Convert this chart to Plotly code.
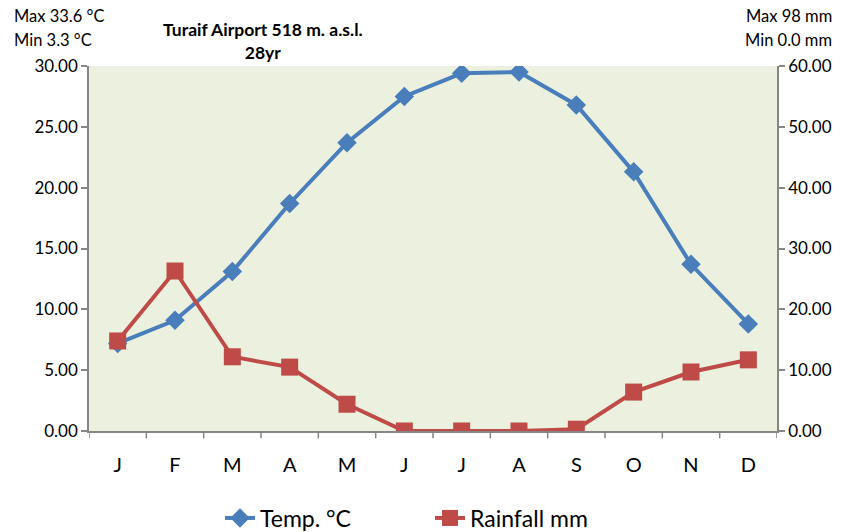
import plotly.graph_objects as go

months = ["J", "F", "M", "A", "M", "J", "J", "A", "S", "O", "N", "D"]
temp_c = [7.2, 9.1, 13.1, 18.7, 23.7, 27.5, 29.4, 29.5, 26.8, 21.3, 13.7, 8.8]
rain_mm = [14.8, 26.3, 12.2, 10.5, 4.4, 0.0, 0.0, 0.0, 0.3, 6.4, 9.7, 11.7]
temp_ticks = [0, 5, 10, 15, 20, 25, 30]
rain_ticks = [0, 10, 20, 30, 40, 50, 60]

x = list(range(len(months)))
FONT = "Lato, Carlito, 'Liberation Sans', sans-serif"
AXIS = "#868686"
L, R, T, B = 89, 69, 66, 101
W, H = 846, 532
PW, PH = W - L - R, H - T - B

fig = go.Figure()
fig.add_trace(go.Scatter(
    x=x, y=temp_c, name="Temp. °C", mode="lines+markers",
    line=dict(color="#4A7EBB", width=4),
    marker=dict(symbol="diamond", size=15, color="#4A7EBB"),
))
fig.add_trace(go.Scatter(
    x=x, y=rain_mm, name="Rainfall mm", mode="lines+markers", yaxis="y2",
    line=dict(color="#BE4B48", width=4),
    marker=dict(symbol="square", size=17, color="#BE4B48"),
))

fig.update_layout(
    width=W, height=H,
    margin=dict(l=L, r=R, t=T, b=B, autoexpand=False),
    paper_bgcolor="white",
    plot_bgcolor="#EBF1DE",
    font=dict(family=FONT, color="black", size=17),
    showlegend=True,
    legend=dict(orientation="h", x=(220 - L) / PW, xanchor="left",
                y=(H - B - 518) / PH, yanchor="middle",
                font=dict(size=23), traceorder="normal",
                entrywidth=165, entrywidthmode="pixels",
                bgcolor="rgba(0,0,0,0)"),
    xaxis=dict(
        range=[-0.5, 11.5], tickmode="array", tickvals=x, ticktext=months,
        showgrid=False, zeroline=False, showline=True, linecolor=AXIS, linewidth=1.5,
        ticks="", tickfont=dict(size=20), ticklabelstandoff=15,
    ),
    yaxis=dict(
        range=[0, 30], tickmode="array", tickvals=temp_ticks,
        ticktext=[f"{v:.2f}" for v in temp_ticks],
        showgrid=False, zeroline=False, showline=True, linecolor=AXIS, linewidth=1.5,
        ticks="outside", ticklen=6, tickcolor=AXIS, tickwidth=1.5,
    ),
    yaxis2=dict(
        range=[0, 60], tickmode="array", tickvals=rain_ticks,
        ticktext=[f"{v:.2f}" for v in rain_ticks],
        overlaying="y", side="right",
        showgrid=False, zeroline=False, showline=True, linecolor=AXIS, linewidth=1.5,
        ticks="outside", ticklen=6, tickcolor=AXIS, tickwidth=1.5,
    ),
)

# category boundary tick marks below the x axis
for b in [i - 0.5 for i in range(len(months) + 1)]:
    fig.add_shape(type="line", xref="x", yref="paper", x0=b, x1=b, y0=0, y1=-0.02,
                  line=dict(color=AXIS, width=1.5))

notes = [
    dict(text="Max 33.6 °C", x=12, y=16, xanchor="left"),
    dict(text="Min 3.3 °C", x=12, y=40, xanchor="left"),
    dict(text="Max 98 mm", x=834, y=16, xanchor="right"),
    dict(text="Min 0.0 mm", x=834, y=40, xanchor="right"),
]
for n in notes:
    fig.add_annotation(text=n["text"], xref="paper", yref="paper",
                       x=(n["x"] - L) / PW, y=(H - B - n["y"]) / PH,
                       xanchor=n["xanchor"], yanchor="middle", showarrow=False,
                       font=dict(size=16.5))

fig.add_annotation(text="<b>Turaif Airport 518 m. a.s.l.<br>28yr</b>", xref="paper", yref="paper",
                   x=(263 - L) / PW, y=(H - B - 41) / PH,
                   xanchor="center", yanchor="middle", showarrow=False,
                   font=dict(size=17.5), align="center")

fig.write_html("out.html")
